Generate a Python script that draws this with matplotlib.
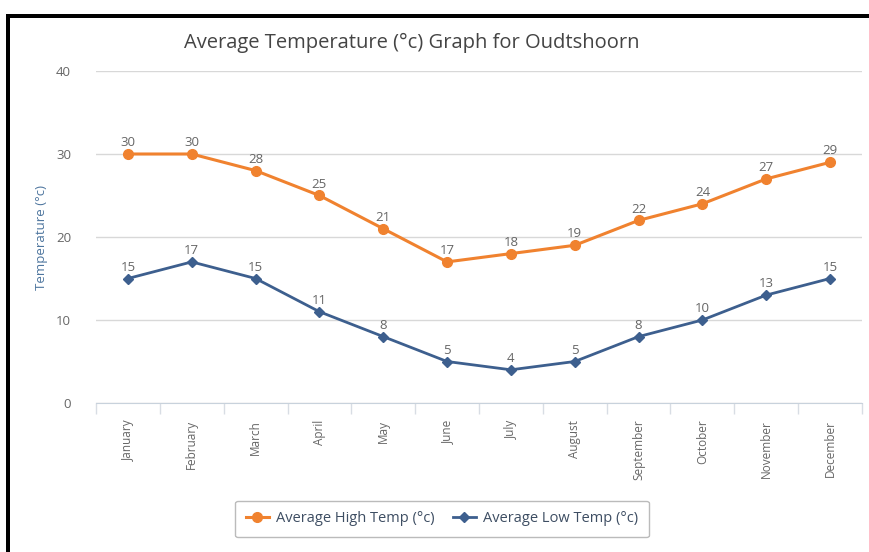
import matplotlib
matplotlib.use('Agg')
import matplotlib.pyplot as plt
from matplotlib.patches import Rectangle

plt.rcParams['font.family'] = ['Open Sans', 'DejaVu Sans']

months = ['January', 'February', 'March', 'April', 'May', 'June', 'July',
          'August', 'September', 'October', 'November', 'December']
high = [30, 30, 28, 25, 21, 17, 18, 19, 22, 24, 27, 29]
low = [15, 17, 15, 11, 8, 5, 4, 5, 8, 10, 13, 15]
yticks = [0, 10, 20, 30, 40]

orange = '#F0822F'
blue = '#3D5F8E'
W, H = 869, 552

fig = plt.figure(figsize=(W / 100, H / 100), dpi=100)
ax = fig.add_axes([96 / W, 1 - 403 / H, 766 / W, 332 / H])

x = list(range(len(months)))
ax.plot(x, high, color=orange, lw=2.2, marker='o', ms=7, label='Average High Temp (°c)', zorder=3)
ax.plot(x, low, color=blue, lw=2.0, marker='D', ms=5, label='Average Low Temp (°c)', zorder=3)

# point labels
for i in x:
    ax.annotate(str(high[i]), (i, high[i]), xytext=(0, 3.5), textcoords='offset points',
                ha='center', va='bottom', fontsize=9.5, color='#666666')
    ax.annotate(str(low[i]), (i, low[i]), xytext=(0, 3.5), textcoords='offset points',
                ha='center', va='bottom', fontsize=9.5, color='#666666')

ax.set_xlim(-0.5, 11.5)
ax.set_ylim(0, 40)
ax.set_yticks(yticks)
ax.set_xticks(x)
ax.set_xticklabels(months, rotation=90, fontsize=8.5, color='#666666')
ax.tick_params(axis='x', length=0, pad=12)
ax.tick_params(axis='y', length=0, pad=18, labelsize=9.5, labelcolor='#666666')
ax.set_xticks([i - 0.5 for i in range(13)], minor=True)
ax.tick_params(axis='x', which='minor', length=8, color='#D8DDE4', width=1)
ax.grid(axis='y', color='#D8D8D8', lw=1)
for s in ['top', 'right', 'left']:
    ax.spines[s].set_visible(False)
ax.spines['bottom'].set_color('#C8D2DC')
ax.set_ylabel('Temperature (°c)', fontsize=9.5, color='#4D759E', labelpad=6)

fig.text(412 / W, 1 - 43 / H, 'Average Temperature (°c) Graph for Oudtshoorn',
         ha='center', va='center', fontsize=14.5, color='#444444')

leg = fig.legend(loc='center', bbox_to_anchor=(442 / W, 1 - 519 / H), ncol=2,
                 frameon=True, fontsize=10.5, handlelength=1.6, columnspacing=1.2,
                 handletextpad=0.5, fancybox=True, borderpad=0.75)
leg.get_frame().set_edgecolor('#AAAAAA')
for t in leg.get_texts():
    t.set_color('#3E4E63')

# black frame lines (top and left)
fig.add_artist(Rectangle((6 / W, 0), 4 / W, 1 - 14 / H, transform=fig.transFigure,
                         color='black', lw=0))
fig.add_artist(Rectangle((6 / W, 1 - 18 / H), 1, 4 / H, transform=fig.transFigure,
                         color='black', lw=0))

fig.savefig('out.png', dpi=100)
